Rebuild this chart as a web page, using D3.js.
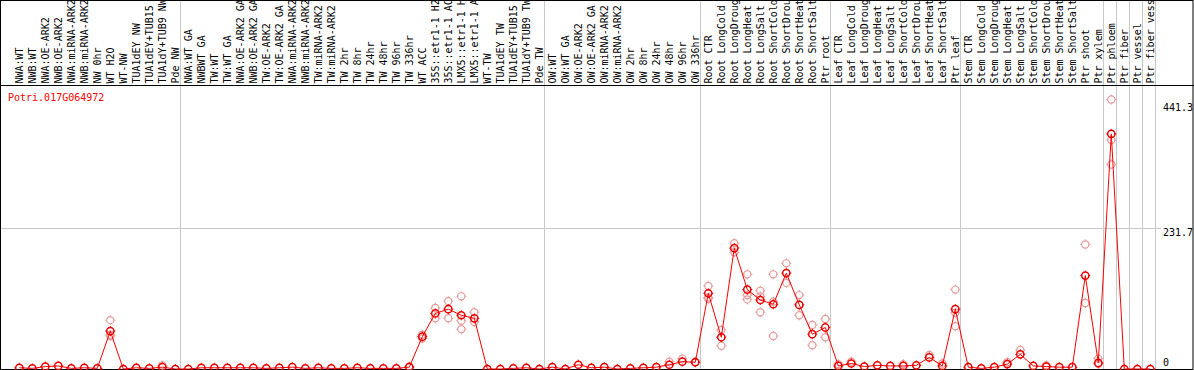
<!DOCTYPE html>
<html>
<head>
<meta charset="utf-8">
<script src="https://cdn.jsdelivr.net/npm/d3@7"></script>
<style>
    body { margin: 0; background: #fff; }
    svg { display: block; }
    text { font-family: "DejaVu Sans Mono", monospace; }
</style>
</head>
<body>
<div id="chart"></div>
<script>
const width = 1194;
const height = 370;

const geneId = "Potri.017G064972";

const categories = [
    "NWA:WT", "NWB:WT", "NWA:OE-ARK2", "NWB:OE-ARK2", "NWA:miRNA-ARK2", "NWB:miRNA-ARK2", "NW 0hr", "WT H2O", "WT-NW",
    "TUA1dEY NW", "TUA1dEY+TUB15 NW", "TUA1dY+TUB9 NW", "Pde NW",
    "NWA:WT GA", "NWBWT GA", "TW:WT", "TW:WT GA", "NWA:OE-ARK2 GA", "NWB:OE-ARK2 GA", "TW:OE-ARK2", "TW:OE-ARK2 GA",
    "NWA:miRNA-ARK2", "NWB:miRNA-ARK2", "TW:miRNA-ARK2", "TW:miRNA-ARK2 ", "TW 2hr", "TW 8hr", "TW 24hr", "TW 48hr",
    "TW 96hr", "TW 336hr", "WT ACC", "35S::etr1-1 H2O", "35S::etr1-1 ACC", "LMX5::etr1-1 H2O", "LMX5::etr1-1 ACC",
    "WT-TW", "TUA1dEY TW", "TUA1dEY+TUB15 TW", "TUA1dY+TUB9 TW", "Pde TW",
    "OW:WT", "OW:WT GA", "OW:OE-ARK2", "OW:OE-ARK2 GA", "OW:miRNA-ARK2", "OW:miRNA-ARK2 ", "OW 2hr", "OW 8hr",
    "OW 24hr", "OW 48hr", "OW 96hr", "OW 336hr",
    "Root CTR", "Root LongCold", "Root LongDroug", "Root LongHeat", "Root LongSalt", "Root ShortCold", "Root ShortDrou",
    "Root ShortHeat", "Root ShortSalt", "Ptr root",
    "Leaf CTR", "Leaf LongCold", "Leaf LongDroug", "Leaf LongHeat", "Leaf LongSalt", "Leaf ShortCold", "Leaf ShortDrou",
    "Leaf ShortHeat", "Leaf ShortSalt", "Ptr leaf",
    "Stem CTR", "Stem LongCold", "Stem LongDroug", "Stem LongHeat", "Stem LongSalt", "Stem ShortCold", "Stem ShortDrou",
    "Stem ShortHeat", "Stem ShortSalt", "Ptr shoot", "Ptr xylem",
    "Ptr phloem", "Ptr fiber", "Ptr vessel", "Ptr fiber vessel"
];

// mean expression per sample
const means = [
    2, 1, 4, 5, 1, 2, 1, 62, 0, 2, 1, 3, 0,
    0, 2, 2, 2, 2, 2, 1, 2, 3, 1, 2, 1, 1, 2, 1, 1, 1, 3, 53, 91, 98, 88, 83, 0, 0, 1, 2, 0,
    3, 0, 7, 2, 3, 0, 1, 2, 3, 7, 12, 11,
    124, 52, 198, 130, 113, 106, 157, 105, 57, 68,
    5, 9, 4, 6, 5, 5, 6, 19, 5, 98,
    3, 1, 3, 8, 24, 5, 4, 3, 3, 153, 10,
    385, 0, 0, 0
];

// individual replicates that show up behind the means
const replicates = {
    7: [80, 54, 56], 11: [6], 30: [4], 31: [56, 50], 32: [100, 83], 33: [111, 83],
    34: [119, 79, 65], 35: [93, 77], 50: [12], 51: [17], 52: [12],
    53: [136, 117, 115], 54: [64, 38], 55: [206, 191], 56: [155, 121, 114],
    57: [128, 119, 93], 58: [155, 110, 54], 59: [173, 141], 60: [121, 88],
    61: [72, 39], 62: [82, 52], 63: [8], 64: [12], 68: [8], 70: [23], 71: [9],
    72: [130, 92, 70], 76: [11], 77: [31], 79: [6], 82: [204, 108], 83: [17, 8],
    84: [441.3, 375, 335]
};

// a grey separator follows each of these sample indices
const groupEnds = [-1, 12, 40, 52, 62, 72, 83, 84, 85, 86, 87];

const yTicks = [441.3, 231.7, 0];
const yMid = 231.7;

const headerBottom = 86;
const plotBottom = 369;

const svg = d3.select("#chart")
    .append("svg")
    .attr("width", width)
    .attr("height", height);

const x = d3.scaleBand()
    .domain(d3.range(categories.length))
    .range([12.8, 12.8 + 13 * categories.length]);

const cx = i => x(i) + x.bandwidth() / 2;

const y = d3.scaleLinear()
    .domain([0, yMid * 2])
    .range([plotBottom, headerBottom]);

// grid
svg.append("line")
    .attr("x1", 1).attr("x2", 1161)
    .attr("y1", Math.round(y(yMid)) + 0.5).attr("y2", Math.round(y(yMid)) + 0.5)
    .attr("stroke", "#c8c8c8");

svg.selectAll(".sep")
    .data(groupEnds)
    .enter().append("line")
    .attr("class", "sep")
    .attr("x1", d => Math.round(cx(d) + 5) + 0.5)
    .attr("x2", d => Math.round(cx(d) + 5) + 0.5)
    .attr("y1", 0).attr("y2", plotBottom)
    .attr("stroke", "#c8c8c8");

// sample labels in header
svg.selectAll(".lab")
    .data(categories)
    .enter().append("text")
    .attr("class", "lab")
    .attr("transform", (d, i) => `translate(${cx(i) + 3.6},${headerBottom - 2.5}) rotate(-90)`)
    .attr("font-size", 10)
    .attr("fill", "#000")
    .text(d => d.trim());

// frame
svg.append("rect")
    .attr("x", 0.5).attr("y", 0.5)
    .attr("width", width - 1.5).attr("height", plotBottom)
    .attr("fill", "none")
    .attr("stroke", "#000");

svg.append("line")
    .attr("x1", 0).attr("x2", width)
    .attr("y1", headerBottom - 0.5).attr("y2", headerBottom - 0.5)
    .attr("stroke", "#000");

// marker = circle with small ticks
function marker(sel, color, sw) {
    sel.append("circle")
        .attr("r", 3.6)
        .attr("fill", "none")
        .attr("stroke", color)
        .attr("stroke-width", sw);
    [[0, -1], [0, 1], [-1, 0], [1, 0]].forEach(([dx, dy]) => {
        sel.append("line")
            .attr("x1", dx * 3.6).attr("y1", dy * 3.6)
            .attr("x2", dx * 5).attr("y2", dy * 5)
            .attr("stroke", color)
            .attr("stroke-width", 1);
    });
}

const repData = [];
Object.entries(replicates).forEach(([k, vals]) => {
    vals.forEach(v => repData.push({ i: +k, v: v }));
});

svg.selectAll(".rep")
    .data(repData)
    .enter().append("g")
    .attr("class", "rep")
    .attr("transform", d => `translate(${cx(d.i)},${y(d.v)})`)
    .call(marker, "#e89a9a", 1.2);

const line = d3.line()
    .x((d, i) => cx(i))
    .y(d => y(d));

svg.append("path")
    .datum(means)
    .attr("d", line)
    .attr("fill", "none")
    .attr("stroke", "#ff0000")
    .attr("stroke-width", 1);

svg.selectAll(".mean")
    .data(means)
    .enter().append("g")
    .attr("class", "mean")
    .attr("transform", (d, i) => `translate(${cx(i)},${y(d)})`)
    .call(marker, "#ee0000", 1.5);

// gene id
svg.append("text")
    .attr("x", 8)
    .attr("y", headerBottom + 15)
    .attr("font-size", 10)
    .attr("fill", "#ff0000")
    .text(geneId);

// value labels on the right
const tickOffset = { 441.3: 11.8, 231.7: 8, 0: -2.7 };
svg.selectAll(".ytick")
    .data(yTicks)
    .enter().append("text")
    .attr("class", "ytick")
    .attr("x", 1163)
    .attr("y", d => y(d) + tickOffset[d])
    .attr("font-size", 10)
    .attr("fill", "#000")
    .text(d => d);
</script>
</body>
</html>
